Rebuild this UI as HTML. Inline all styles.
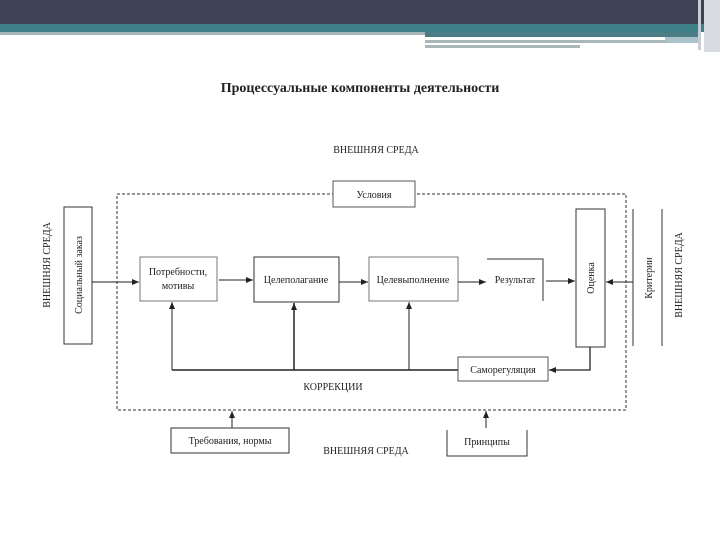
<!DOCTYPE html>
<html><head><meta charset="utf-8"><style>
html,body{margin:0;padding:0;background:#fff;width:720px;height:540px;overflow:hidden}
text{font-family:"Liberation Serif",serif;fill:#222}
</style></head><body>
<svg width="720" height="540" viewBox="0 0 720 540" xmlns="http://www.w3.org/2000/svg">
<defs><marker id="a" markerWidth="8" markerHeight="8" refX="7" refY="3" orient="auto" markerUnits="userSpaceOnUse"><path d="M0,0 L7,3 L0,6 z" fill="#222"/></marker></defs>
<rect x="0" y="0" width="720" height="24" fill="#3f4355"/>
<rect x="0" y="24" width="720" height="8" fill="#3f7f88"/>
<rect x="0" y="32" width="425" height="3" fill="#a7b5ba"/>
<rect x="425" y="32" width="275" height="5" fill="#4a7d85"/>
<rect x="425" y="40" width="240" height="3" fill="#a9b7b8"/>
<rect x="665" y="37" width="35" height="6" fill="#a9c3c8"/>
<rect x="425" y="45" width="155" height="3" fill="#a9b7b8"/>
<rect x="698" y="0" width="3" height="50" fill="#c8ccd4"/>
<rect x="704" y="0" width="16" height="52" fill="#d8dbe0"/>
<text x="360" y="92" text-anchor="middle" font-size="14" font-weight="bold">Процессуальные компоненты деятельности</text>
<text x="376" y="153" text-anchor="middle" font-size="10">ВНЕШНЯЯ СРЕДА</text>
<rect x="117" y="194" width="509" height="216" fill="none" stroke="#333" stroke-dasharray="3,2"/>
<rect x="333" y="181" width="82" height="26" fill="#fff" stroke="#555"/>
<text x="374" y="198" text-anchor="middle" font-size="10">Условия</text>
<rect x="64" y="207" width="28" height="137" fill="#fff" stroke="#333"/>
<text transform="translate(82,275) rotate(-90)" text-anchor="middle" font-size="10">Социальный заказ</text>
<text transform="translate(50,265) rotate(-90)" text-anchor="middle" font-size="10">ВНЕШНЯЯ СРЕДА</text>
<rect x="140" y="257" width="77" height="44" fill="#fff" stroke="#777"/>
<text x="178" y="275" text-anchor="middle" font-size="10">Потребности,</text>
<text x="178" y="289" text-anchor="middle" font-size="10">мотивы</text>
<rect x="254" y="257" width="85" height="45" fill="#fff" stroke="#333"/>
<text x="296" y="283" text-anchor="middle" font-size="10">Целеполагание</text>
<rect x="369" y="257" width="89" height="44" fill="#fff" stroke="#777"/>
<text x="413" y="283" text-anchor="middle" font-size="10">Целевыполнение</text>
<path d="M487,259 H543 V301" fill="none" stroke="#333"/>
<text x="515" y="283" text-anchor="middle" font-size="10">Результат</text>
<rect x="576" y="209" width="29" height="138" fill="#fff" stroke="#333"/>
<text transform="translate(594,278) rotate(-90)" text-anchor="middle" font-size="10">Оценка</text>
<path d="M633,209 V346 M662,209 V346" stroke="#333"/>
<text transform="translate(652,278) rotate(-90)" text-anchor="middle" font-size="10">Критерии</text>
<text transform="translate(682,275) rotate(-90)" text-anchor="middle" font-size="10">ВНЕШНЯЯ СРЕДА</text>
<g stroke="#222" fill="none" marker-end="url(#a)">
<path d="M92,282 H139"/><path d="M219,280 H253"/><path d="M339,282 H368"/>
<path d="M458,282 H486"/><path d="M546,281 H575"/><path d="M633,282 H606"/>
<path d="M172,370 V302"/><path d="M294,370 V303" stroke-width="1.5"/><path d="M409,370 V302"/>
<path d="M590,347 V370 H549" stroke-width="1.3"/>
<path d="M232,428 V411"/><path d="M486,428 V411"/>
</g>
<path d="M172,370 H458" stroke="#222" stroke-width="1.5"/>
<rect x="458" y="357" width="90" height="24" fill="#fff" stroke="#555"/>
<text x="503" y="373" text-anchor="middle" font-size="10">Саморегуляция</text>
<text x="333" y="390" text-anchor="middle" font-size="10">КОРРЕКЦИИ</text>
<rect x="171" y="428" width="118" height="25" fill="#fff" stroke="#333"/>
<text x="230" y="444" text-anchor="middle" font-size="10">Требования, нормы</text>
<path d="M447,430 V456 H527 V430" fill="none" stroke="#333"/>
<text x="487" y="445" text-anchor="middle" font-size="10">Принципы</text>
<text x="366" y="454" text-anchor="middle" font-size="10">ВНЕШНЯЯ СРЕДА</text>
</svg>
</body></html>
